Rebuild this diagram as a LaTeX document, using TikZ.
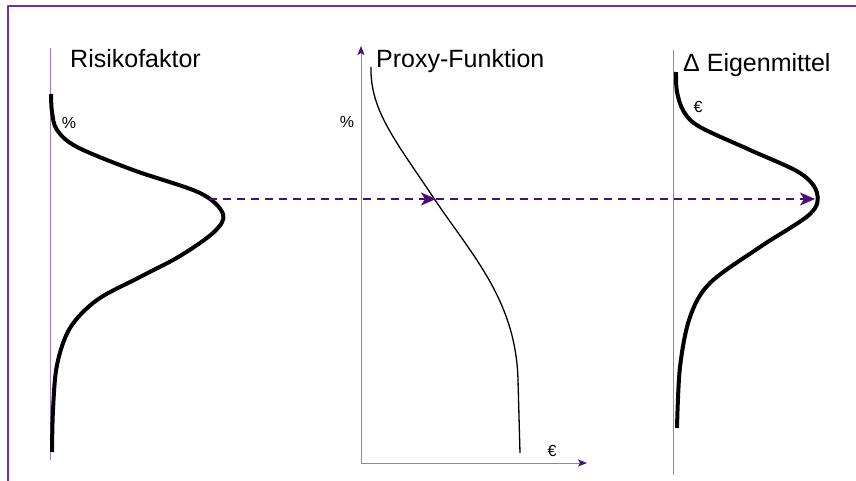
\documentclass[tikz,border=0pt]{standalone}
\usepackage{fontspec}
\setmainfont{Liberation Sans}
\usetikzlibrary{arrows.meta}
\definecolor{framepurple}{RGB}{112,48,160}
\definecolor{axispurple}{RGB}{160,120,195}
\definecolor{darkpurple}{RGB}{75,15,120}

\begin{document}
\begin{tikzpicture}[x=1pt,y=-1pt,line join=round,
  axisline/.style={draw=axispurple,line width=1pt},
  axisarrow/.style={axisline,-{Stealth[length=9pt,width=7pt,inset=2pt,color=darkpurple]}},
  density/.style={line width=4pt,line cap=butt},
  proxy/.style={line width=1.3pt},
  flow/.style={darkpurple,line width=2pt,dash pattern=on 8pt off 6pt,
    -{Stealth[length=15pt,width=13pt,inset=4pt]}},
  title/.style={anchor=base west,inner sep=0pt,font=\fontsize{25}{30}\selectfont},
  unit/.style={inner sep=0pt,font=\fontsize{16}{18}\selectfont}]
\useasboundingbox (0,0) rectangle (856,481);
% frame (top and left edges only)
\draw[framepurple,line width=1.5pt] (8,481) -- (8,6) -- (856,6);
% titles
\node[title] (risk) at (70,68) {Risikofaktor};
\node[title] (pxy) at (376,68) {Proxy-Funktion};
\node[title] (own) at (683,72) {Δ Eigenmittel};
% left panel: risk factor distribution
\draw[axisline] (50,48) -- (50,460);
\draw[density] plot[smooth,tension=0.55] coordinates {(51,94) (52,112) (57,130) (77,147) (133,170)
  (200,193) (223,214) (214,232) (180,256) (140,277) (97,300) (70,328) (57,365) (53,410) (52,452)};
\node[unit] (pctl) at (69,123) {\%};
% middle panel: proxy function
\coordinate (orig) at (361,463);
\draw[axisarrow] (orig) -- (361,46);
\draw[axisarrow] (orig) -- (587,463);
\node[unit] (pctm) at (347,122) {\%};
\node[unit] (eurm) at (552,451) {€};
\draw[proxy] (371,67) .. controls (370,110) and (395,140) .. (433,197)
  .. controls (471,254) and (516,300) .. (518,380) -- (520,453);
% right panel: change in own funds
\draw[axisline] (673,50) -- (673,475);
\draw[density] plot[smooth,tension=0.55] coordinates {(676,72) (677,92) (684,112) (700,127) (750,150)
  (800,173) (817,193) (810,214) (760,247) (710,283) (690,317) (680,367) (677,428)};
\node[unit] (eurr) at (698,107) {€};
% mapping through the proxy
\coordinate (lpk) at (209,199);
\coordinate (hit) at (436,199);
\coordinate (rpk) at (815,199);
\draw[flow] (lpk) -- (hit);
\draw[flow] (hit) -- (rpk);
\end{tikzpicture}
\end{document}
